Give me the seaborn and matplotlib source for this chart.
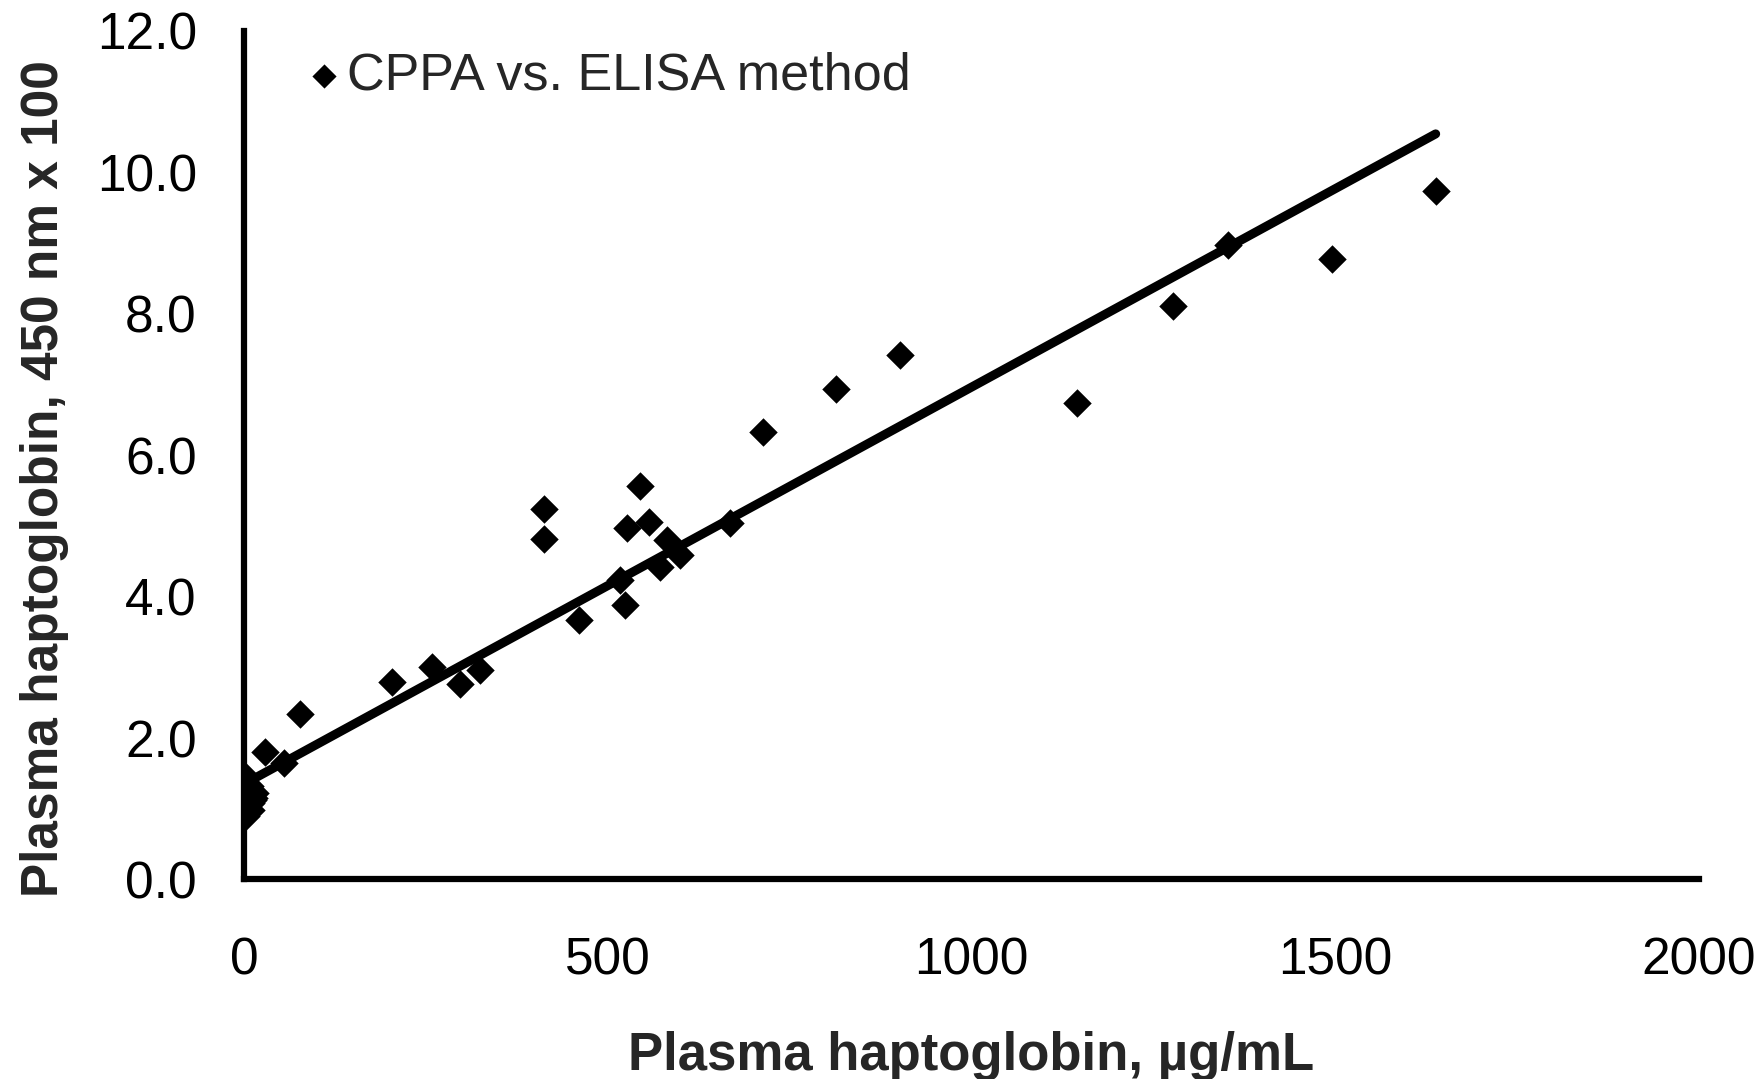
import matplotlib
matplotlib.use("Agg")
import matplotlib.pyplot as plt
import numpy as np
import pandas as pd
import seaborn as sns

# values (dense cluster of low samples near 0)
elisa = [0, 8, 3, 12, 0, 5, 15, 2, 6, 10, 1, 4, 0, 9, 14, 3, 7, 0,
         29, 55, 77,
         203, 258, 297, 324, 412, 412, 460, 517, 524, 526,
         544, 557, 572, 581, 599, 668, 714, 814, 902, 1145,
         1277, 1352, 1495, 1638]
cppa = [1.48, 1.32, 1.18, 1.12, 1.02, 0.95, 1.22, 0.90, 1.05, 0.98, 1.10, 1.00, 0.92, 1.08, 1.15, 0.97, 1.25, 1.12,
        1.81, 1.65, 2.34,
        2.80, 3.01, 2.77, 2.96, 5.24, 4.82, 3.67, 4.24, 3.88, 4.97,
        5.56, 5.06, 4.42, 4.80, 4.59, 5.04, 6.33, 6.94, 7.42, 6.74,
        8.11, 8.98, 8.77, 9.73]
series_label = "CPPA vs. ELISA method"
x_ticks = [0, 500, 1000, 1500, 2000]
y_ticks = [0.0, 2.0, 4.0, 6.0, 8.0, 10.0, 12.0]

df = pd.DataFrame({"elisa": elisa, "cppa": cppa})

sns.set_style("white")
plt.rcParams["font.family"] = ["Liberation Sans", "DejaVu Sans"]

fig = plt.figure(figsize=(17.61, 10.79), dpi=100)
ax = fig.add_axes([0.1386, 0.1849, 0.8262, 0.7864])

sns.regplot(data=df, x="elisa", y="cppa", ax=ax, scatter=False, ci=None,
            truncate=True, line_kws={"color": "black", "linewidth": 6.5,
                                     "solid_capstyle": "round"})
sns.scatterplot(data=df, x="elisa", y="cppa", ax=ax, marker="D", s=210,
                color="black", linewidth=0, label=series_label, zorder=3)

ax.set_xlim(0, 2000)
ax.set_ylim(0, 12)
ax.set_xticks(x_ticks)
ax.set_yticks(y_ticks)
ax.set_xticklabels([str(t) for t in x_ticks])
ax.set_yticklabels([f"{t:.1f}" for t in y_ticks])
ax.tick_params(axis="both", direction="out", length=14, width=3.5,
               labelsize=37, color="black", labelcolor="black")
ax.tick_params(axis="x", pad=27)
ax.tick_params(axis="y", pad=20)

ax.spines["top"].set_visible(False)
ax.spines["right"].set_visible(False)
for side in ["left", "bottom"]:
    ax.spines[side].set_linewidth(4.5)
    ax.spines[side].set_color("black")

ax.set_xlabel("Plasma haptoglobin, µg/mL", fontsize=38, fontweight="bold")
ax.set_ylabel("Plasma haptoglobin, 450 nm x 100", fontsize=37, fontweight="bold")
ax.xaxis.set_label_coords(0.5, -0.178)
ax.yaxis.set_label_coords(-0.12, 0.473)

leg = ax.legend(loc="upper left", bbox_to_anchor=(0.026, 1.0), frameon=False,
                fontsize=37.5, handlelength=0.8, handletextpad=0.05,
                markerscale=0.85, borderaxespad=0)

fig.savefig("out.png", dpi=100)
